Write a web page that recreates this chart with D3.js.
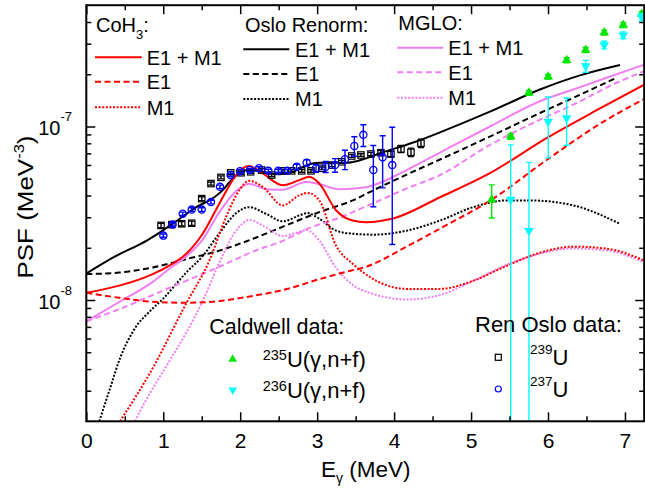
<!DOCTYPE html>
<html>
<head>
<meta charset="utf-8">
<title>PSF</title>
<script src="https://cdn.jsdelivr.net/npm/d3@7"></script>
<style>
  body { margin: 0; background: #fff; }
  svg { display: block; font-family: "Liberation Sans", Arial, sans-serif; }
</style>
</head>
<body>
<svg id="chart" width="645" height="488"></svg>
<script>
'use strict';

// E (MeV), PSF (MeV^-3)
var cohE1M1 = [[0,1.10e-8],[0.429,1.21e-8],[0.863,1.41e-8],[1.078,1.58e-8],[1.295,1.84e-8],[1.512,2.41e-8],[1.728,3.59e-8],[1.902,4.91e-8],[2.032,5.74e-8],[2.118,5.91e-8],[2.292,5.36e-8],[2.552,4.59e-8],[2.768,4.91e-8],[2.898,5.13e-8],[3.028,4.69e-8],[3.245,3.29e-8],[3.462,2.87e-8],[3.634,2.81e-8],[3.985,2.95e-8],[4.596,3.91e-8],[5.245,5.38e-8],[5.986,8.60e-8],[6.675,1.27e-7],[7.26,1.75e-7]];
var cohE1 = [[0,1.10e-8],[0.429,1.03e-8],[0.863,9.77e-9],[1.295,9.64e-9],[1.728,9.87e-9],[2.162,1.055e-8],[2.595,1.154e-8],[3.028,1.318e-8],[3.375,1.454e-8],[3.634,1.554e-8],[4.163,2.03e-8],[4.596,2.58e-8],[5.268,3.79e-8],[5.982,6.41e-8],[6.762,1.094e-7],[7.26,1.448e-7]];
var cohM1 = [[0.438,2.0e-9],[0.863,4.05e-9],[1.295,9.5e-9],[1.598,1.683e-8],[1.815,3.00e-8],[1.988,4.29e-8],[2.118,4.86e-8],[2.292,4.49e-8],[2.552,3.51e-8],[2.768,4.01e-8],[2.877,4.14e-8],[3.028,3.75e-8],[3.245,2.06e-8],[3.462,1.617e-8],[3.725,1.324e-8],[4.163,1.159e-8],[4.596,1.159e-8],[5.025,1.289e-8],[5.463,1.575e-8],[5.897,1.875e-8],[6.324,2.03e-8],[6.762,1.977e-8],[7.26,1.683e-8]];

var osloE1M1 = [[0,1.42e-8],[0.351,1.76e-8],[0.785,2.20e-8],[0.997,2.52e-8],[1.218,2.95e-8],[1.425,3.42e-8],[1.620,3.80e-8],[1.750,4.20e-8],[1.867,4.80e-8],[1.997,5.44e-8],[2.127,5.61e-8],[2.279,5.48e-8],[2.516,5.31e-8],[2.690,5.48e-8],[2.864,5.99e-8],[3.037,6.18e-8],[3.384,6.18e-8],[3.599,6.47e-8],[3.816,7.01e-8],[4.249,8.08e-8],[4.596,9.25e-8],[5.245,1.217e-7],[5.895,1.633e-7],[6.415,1.97e-7],[6.935,2.26e-7]];
var osloE1 = [[0,1.41e-8],[0.429,1.44e-8],[0.863,1.54e-8],[1.295,1.72e-8],[1.728,1.925e-8],[2.162,2.25e-8],[2.595,2.69e-8],[3.028,3.21e-8],[3.462,3.75e-8],[3.730,4.29e-8],[4.163,5.28e-8],[4.596,6.45e-8],[5.245,8.75e-8],[5.895,1.196e-7],[6.328,1.462e-7],[6.892,1.91e-7]];
var osloM1 = [[0.169,2.0e-9],[0.308,3.09e-9],[0.438,4.61e-9],[0.633,6.88e-9],[0.828,8.63e-9],[0.993,1.013e-8],[1.295,1.434e-8],[1.516,1.80e-8],[1.728,2.42e-8],[1.945,3.16e-8],[2.118,3.43e-8],[2.335,3.14e-8],[2.552,2.84e-8],[2.768,3.07e-8],[2.877,3.17e-8],[3.028,2.94e-8],[3.245,2.51e-8],[3.462,2.41e-8],[3.729,2.38e-8],[4.163,2.51e-8],[4.596,2.87e-8],[5.029,3.43e-8],[5.463,3.75e-8],[5.766,3.75e-8],[6.328,3.51e-8],[6.935,2.75e-8]];

var mgloE1M1 = [[0,7.55e-9],[0.429,9.74e-9],[0.863,1.272e-8],[1.078,1.513e-8],[1.295,1.777e-8],[1.512,2.23e-8],[1.728,3.20e-8],[1.945,4.23e-8],[2.118,4.68e-8],[2.335,4.35e-8],[2.552,4.32e-8],[2.855,4.78e-8],[3.028,4.65e-8],[3.287,4.35e-8],[3.635,4.47e-8],[4.163,5.61e-8],[4.596,7.08e-8],[5.245,1.0e-7],[5.895,1.397e-7],[6.328,1.633e-7],[6.762,1.91e-7],[7.26,2.28e-7]];
var mgloE1 = [[0,7.55e-9],[0.429,8.86e-9],[0.863,1.069e-8],[1.295,1.289e-8],[1.728,1.554e-8],[2.162,1.90e-8],[2.595,2.23e-8],[2.855,2.55e-8],[3.296,2.99e-8],[3.726,3.61e-8],[4.163,4.39e-8],[4.596,5.25e-8],[5.245,7.83e-8],[5.895,1.094e-7],[6.328,1.336e-7],[6.892,1.786e-7],[7.26,2.09e-7]];
var mgloM1 = [[0.633,2.0e-9],[0.763,2.59e-9],[0.863,3.09e-9],[1.078,4.43e-9],[1.295,6.43e-9],[1.512,9.87e-9],[1.728,1.64e-8],[1.902,2.35e-8],[2.032,2.76e-8],[2.118,2.90e-8],[2.292,2.69e-8],[2.552,2.34e-8],[2.768,2.47e-8],[2.855,2.53e-8],[3.028,2.20e-8],[3.245,1.534e-8],[3.462,1.222e-8],[3.729,1.083e-8],[3.945,1.027e-8],[4.163,1.007e-8],[4.596,1.069e-8],[5.029,1.289e-8],[5.463,1.596e-8],[5.897,1.85e-8],[6.324,1.98e-8],[6.762,1.93e-8],[7.26,1.64e-8]];

// Ren Oslo data
var u239E = [0.971,1.110,1.240,1.370,1.500,1.620,1.750,1.876,2.010,2.136,2.279,2.409,2.539,2.669,2.799,2.920,3.059,3.189,3.319,3.449,3.569,3.699,3.829,3.959,4.089,4.219,4.349];
var u239Psf = [2.69e-8,2.72e-8,2.75e-8,2.77e-8,3.84e-8,4.69e-8,5.09e-8,5.41e-8,5.41e-8,5.48e-8,5.61e-8,5.25e-8,5.55e-8,5.55e-8,5.55e-8,5.55e-8,5.74e-8,5.99e-8,6.26e-8,6.76e-8,6.85e-8,6.94e-8,7.06e-8,6.94e-8,7.42e-8,7.10e-8,8.01e-8];
var u239Err = [0.08e-8,0.08e-8,0.08e-8,0.08e-8,0.1e-8,0.1e-8,0.1e-8,0.1e-8,0.1e-8,0.1e-8,0.1e-8,0.1e-8,0.1e-8,0.1e-8,0.1e-8,0.1e-8,0.1e-8,0.12e-8,0.12e-8,0.12e-8,0.12e-8,0.15e-8,0.2e-8,0.25e-8,0.35e-8,0.4e-8,0.45e-8];
var u237E = [1.001,1.122,1.253,1.370,1.500,1.620,1.737,1.876,1.997,2.127,2.244,2.365,2.495,2.612,2.734,2.864,2.985,3.111,3.232,3.361,3.483,3.600,3.730,3.851,3.976];
var u237Psf = [2.35e-8,2.72e-8,3.14e-8,3.32e-8,3.32e-8,3.67e-8,4.49e-8,5.25e-8,5.53e-8,5.61e-8,5.74e-8,5.55e-8,5.55e-8,5.55e-8,5.86e-8,6.18e-8,5.74e-8,5.86e-8,5.99e-8,6.47e-8,7.73e-8,8.95e-8,5.61e-8,6.64e-8,5.99e-8];
var u237Err = [0.05e-8,0.06e-8,0.07e-8,0.08e-8,0.08e-8,0.09e-8,0.1e-8,0.12e-8,0.12e-8,0.12e-8,0.12e-8,0.12e-8,0.12e-8,0.13e-8,0.2e-8,0.25e-8,0.3e-8,0.43e-8,0.54e-8,0.83e-8,0.99e-8,1.28e-8,2.16e-8,2.21e-8,3.9e-8];

// Caldwell data
var u235E = [5.268,5.515,5.752,6.003,6.242,6.489,6.731,6.978,7.217];
var u235Psf = [3.79e-8,8.75e-8,1.563e-7,1.935e-7,2.41e-7,2.76e-7,3.48e-7,3.84e-7,4.45e-7];
var u235Err = [0.82e-8,0.3e-8,0.5e-8,0.6e-8,0.8e-8,0.9e-8,1.1e-8,1.2e-8,1.4e-8];
var u236E = [5.515,5.752,6.003,6.242,6.489,6.731,6.978,7.217];
var u236Psf = [3.79e-8,2.51e-8,1.069e-7,1.119e-7,2.23e-7,2.95e-7,3.36e-7,4.26e-7];
var u236Err = [4.04e-8,3.7e-8,4.1e-8,3.4e-8,1.75e-8,1.5e-8,1.5e-8,2.0e-8];

var xTickValues = [0, 1, 2, 3, 4, 5, 6, 7];
var xMinorValues = [0.5, 1.5, 2.5, 3.5, 4.5, 5.5, 6.5];
var yTickValues = [1e-8, 1e-7];
var yTickExponents = ['-8', '-7'];
var yMinorValues = [3e-9,4e-9,5e-9,6e-9,7e-9,8e-9,9e-9,2e-8,3e-8,4e-8,5e-8,6e-8,7e-8,8e-8,9e-8,2e-7,3e-7,4e-7];
var modelLabels = ['E1 + M1', 'E1', 'M1'];

var svg = d3.select('#chart');

var x = d3.scaleLinear().domain([0, 7.25]).range([86.3, 644.2]);
var y = d3.scaleLog().domain([2e-9, 5e-7]).range([421.3, 5.2]);
var plotLeft = x.range()[0], plotRight = x.range()[1];
var plotTop = y.range()[1], plotBottom = y.range()[0];

var red = '#ff0000', pink = '#f27ff2', green = '#00e600', cyan = '#00ffff', blue = '#0000ff';
var SOLID = null, DASHED = '6,3.5', DOTTED = '2,1.6';

svg.append('defs').append('clipPath').attr('id', 'plot-clip')
  .append('rect')
  .attr('x', plotLeft).attr('y', plotTop)
  .attr('width', plotRight - plotLeft).attr('height', plotBottom - plotTop);

// model curves
var models = [
  {data: osloE1, color: '#000', dash: DASHED},
  {data: osloM1, color: '#000', dash: DOTTED},
  {data: osloE1M1, color: '#000', dash: SOLID},
  {data: mgloE1, color: pink, dash: DASHED},
  {data: mgloM1, color: pink, dash: DOTTED},
  {data: mgloE1M1, color: pink, dash: SOLID},
  {data: cohE1, color: red, dash: DASHED},
  {data: cohM1, color: red, dash: DOTTED},
  {data: cohE1M1, color: red, dash: SOLID}
];

var line = d3.line()
  .x(function (d) { return x(d[0]); })
  .y(function (d) { return y(d[1]); })
  .curve(d3.curveMonotoneX);

svg.append('g').attr('clip-path', 'url(#plot-clip)')
  .selectAll('path').data(models).enter().append('path')
  .attr('d', function (d) { return line(d.data); })
  .attr('fill', 'none')
  .attr('stroke', function (d) { return d.color; })
  .attr('stroke-width', 2)
  .attr('stroke-dasharray', function (d) { return d.dash; });

// error bars
function errorBars(xs, vs, errs, color) {
  var rows = d3.zip(xs, vs, errs);
  var g = svg.append('g').attr('clip-path', 'url(#plot-clip)')
    .attr('stroke', color).attr('stroke-width', 1.4);
  g.selectAll('line.bar').data(rows).enter().append('line')
    .attr('x1', function (d) { return x(d[0]); })
    .attr('x2', function (d) { return x(d[0]); })
    .attr('y1', function (d) { return y(Math.max(d[1] - d[2], 1e-11)); })
    .attr('y2', function (d) { return y(d[1] + d[2]); });
  g.selectAll('line.hi').data(rows).enter().append('line')
    .attr('x1', function (d) { return x(d[0]) - 3; })
    .attr('x2', function (d) { return x(d[0]) + 3; })
    .attr('y1', function (d) { return y(d[1] + d[2]); })
    .attr('y2', function (d) { return y(d[1] + d[2]); });
  g.selectAll('line.lo').data(rows.filter(function (d) { return d[1] - d[2] > 0; })).enter().append('line')
    .attr('x1', function (d) { return x(d[0]) - 3; })
    .attr('x2', function (d) { return x(d[0]) + 3; })
    .attr('y1', function (d) { return y(d[1] - d[2]); })
    .attr('y2', function (d) { return y(d[1] - d[2]); });
}

var triangle = d3.symbol().type(d3.symbolTriangle).size(40);
var legendTriangle = d3.symbol().type(d3.symbolTriangle).size(32);

errorBars(u239E, u239Psf, u239Err, '#000');
svg.append('g').selectAll('rect').data(d3.zip(u239E, u239Psf)).enter().append('rect')
  .attr('x', function (d) { return x(d[0]) - 3.2; })
  .attr('y', function (d) { return y(d[1]) - 3.2; })
  .attr('width', 6.4).attr('height', 6.4)
  .attr('fill', 'none').attr('stroke', '#000').attr('stroke-width', 1.2);

errorBars(u237E, u237Psf, u237Err, blue);
svg.append('g').selectAll('circle').data(d3.zip(u237E, u237Psf)).enter().append('circle')
  .attr('cx', function (d) { return x(d[0]); })
  .attr('cy', function (d) { return y(d[1]); })
  .attr('r', 3.6)
  .attr('fill', 'none').attr('stroke', blue).attr('stroke-width', 1.3);

errorBars(u235E, u235Psf, u235Err, green);
svg.append('g').selectAll('path').data(d3.zip(u235E, u235Psf)).enter().append('path')
  .attr('d', triangle)
  .attr('transform', function (d) { return 'translate(' + x(d[0]) + ',' + y(d[1]) + ')'; })
  .attr('fill', green);

errorBars(u236E, u236Psf, u236Err, cyan);
svg.append('g').selectAll('path').data(d3.zip(u236E, u236Psf)).enter().append('path')
  .attr('d', triangle)
  .attr('transform', function (d) { return 'translate(' + x(d[0]) + ',' + y(d[1]) + ') rotate(180)'; })
  .attr('fill', cyan);

// axes
function styleAxis(g) {
  g.select('.domain').remove();
  g.selectAll('.tick line').attr('stroke', '#000').attr('stroke-width', 1.5);
}

svg.append('g').attr('transform', 'translate(0,' + plotBottom + ')')
  .call(d3.axisBottom(x).tickValues(xTickValues).tickSize(-9).tickPadding(12)
    .tickFormat(function (d) { return String(d); }))
  .call(styleAxis)
  .selectAll('text').attr('font-size', 21).attr('fill', '#000')
  .attr('font-family', '"Liberation Sans", Arial, sans-serif');
svg.append('g').attr('transform', 'translate(0,' + plotBottom + ')')
  .call(d3.axisBottom(x).tickValues(xMinorValues).tickSize(-5).tickFormat(''))
  .call(styleAxis);
svg.append('g').attr('transform', 'translate(0,' + plotTop + ')')
  .call(d3.axisTop(x).tickValues(xTickValues).tickSize(-9).tickFormat(''))
  .call(styleAxis);
svg.append('g').attr('transform', 'translate(0,' + plotTop + ')')
  .call(d3.axisTop(x).tickValues(xMinorValues).tickSize(-5).tickFormat(''))
  .call(styleAxis);

svg.append('g').attr('transform', 'translate(' + plotLeft + ',0)')
  .call(d3.axisLeft(y).tickValues(yTickValues).tickSize(-9).tickFormat(''))
  .call(styleAxis);
svg.append('g').attr('transform', 'translate(' + plotLeft + ',0)')
  .call(d3.axisLeft(y).tickValues(yMinorValues).tickSize(-5).tickFormat(''))
  .call(styleAxis);
svg.append('g').attr('transform', 'translate(' + plotRight + ',0)')
  .call(d3.axisRight(y).tickValues(yTickValues).tickSize(-9).tickFormat(''))
  .call(styleAxis);
svg.append('g').attr('transform', 'translate(' + plotRight + ',0)')
  .call(d3.axisRight(y).tickValues(yMinorValues).tickSize(-5).tickFormat(''))
  .call(styleAxis);

svg.append('rect')
  .attr('x', plotLeft).attr('y', plotTop)
  .attr('width', plotRight - plotLeft).attr('height', plotBottom - plotTop)
  .attr('fill', 'none').attr('stroke', '#000').attr('stroke-width', 2);

// y tick labels 10^n
var yLabels = svg.append('g').selectAll('text').data(d3.zip(yTickValues, yTickExponents)).enter()
  .append('text')
  .attr('x', 72)
  .attr('y', function (d) { return y(d[0]) + 9; })
  .attr('text-anchor', 'end')
  .attr('font-size', 20);
yLabels.append('tspan').text('10');
yLabels.append('tspan').attr('font-size', 13).attr('dy', -14).text(function (d) { return d[1]; });

// axis titles
var xTitle = svg.append('text').attr('x', 321).attr('y', 477.3).attr('font-size', 22.5);
xTitle.append('tspan').text('E');
xTitle.append('tspan').attr('font-size', 14).attr('dy', 6).text('\u03b3');
xTitle.append('tspan').attr('dy', -6).text(' (MeV)');

var yTitle = svg.append('text')
  .attr('transform', 'translate(33,207) rotate(-90) scale(1.18,1)')
  .attr('text-anchor', 'middle').attr('font-size', 22);
yTitle.append('tspan').text('PSF (MeV');
yTitle.append('tspan').attr('font-size', 14).attr('dy', -9).text('-3');
yTitle.append('tspan').attr('dy', 9).text(')');

// model legends
var legendDashes = [SOLID, DASHED, DOTTED];
var modelLegends = [
  {title: 'CoH', sub: '3', color: red, tx: 96, ty: 32.3, x1: 95, x2: 141.7, lx: 146.7, rows: [57.3, 81.7, 107.3]},
  {title: 'Oslo Renorm', sub: '', color: '#000', tx: 245, ty: 32, x1: 243.3, x2: 289.3, lx: 295, rows: [49.3, 74, 99]},
  {title: 'MGLO', sub: '', color: pink, tx: 398.3, ty: 29.5, x1: 397.3, x2: 443.3, lx: 448.3, rows: [47.7, 72.3, 97.7]}
];

modelLegends.forEach(function (lg) {
  var g = svg.append('g');
  var t = g.append('text').attr('x', lg.tx).attr('y', lg.ty).attr('font-size', 20);
  t.append('tspan').text(lg.title);
  if (lg.sub) {
    t.append('tspan').attr('font-size', 13).attr('dy', 7).text(lg.sub);
    t.append('tspan').attr('dy', -7).text(':');
  } else {
    t.append('tspan').text(':');
  }
  lg.rows.forEach(function (ry, i) {
    g.append('line')
      .attr('x1', lg.x1).attr('x2', lg.x2).attr('y1', ry).attr('y2', ry)
      .attr('stroke', lg.color).attr('stroke-width', 2)
      .attr('stroke-dasharray', legendDashes[i]);
    g.append('text').attr('x', lg.lx).attr('y', ry + 7.3).attr('font-size', 20).text(modelLabels[i]);
  });
});

// data legends
var cal = svg.append('g');
cal.append('text').attr('x', 209.3).attr('y', 334.3).attr('font-size', 21.5).text('Caldwell data:');
cal.append('path').attr('d', legendTriangle).attr('transform', 'translate(232.7,359.3)').attr('fill', green);
cal.append('path').attr('d', legendTriangle).attr('transform', 'translate(232.7,390) rotate(180)').attr('fill', cyan);
[['235', 366.7], ['236', 398.3]].forEach(function (r) {
  var t = cal.append('text').attr('x', 262.7).attr('y', r[1]).attr('font-size', 22);
  t.append('tspan').attr('font-size', 14.5).attr('dy', -7).text(r[0]);
  t.append('tspan').attr('dy', 7).text('U(\u03b3,n+f)');
});

var ren = svg.append('g');
ren.append('text').attr('x', 475).attr('y', 331.7).attr('font-size', 22).text('Ren Oslo data:');
ren.append('rect').attr('x', 495.3).attr('y', 354.3).attr('width', 6).attr('height', 6)
  .attr('fill', 'none').attr('stroke', '#000').attr('stroke-width', 1.2);
ren.append('circle').attr('cx', 498.3).attr('cy', 389).attr('r', 3)
  .attr('fill', 'none').attr('stroke', blue).attr('stroke-width', 1.2);
[['239', 365], ['237', 396.7]].forEach(function (r) {
  var t = ren.append('text').attr('x', 530).attr('y', r[1]).attr('font-size', 22);
  t.append('tspan').attr('font-size', 13.5).attr('dy', -11).text(r[0]);
  t.append('tspan').attr('dy', 11).text('U');
});
</script>
</body>
</html>
